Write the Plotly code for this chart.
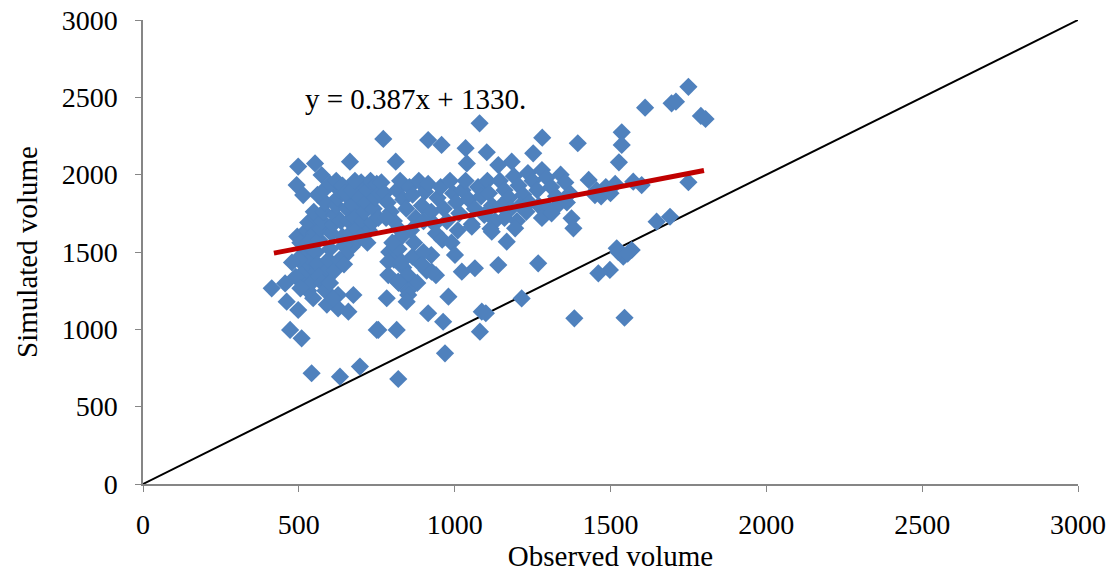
import plotly.graph_objects as go

# Observed vs simulated volumes
observed = [
    # left group
    413, 456, 461, 498, 546, 472, 509, 541, 632, 696, 626, 675, 626, 659, 670,
    498, 552, 493, 514, 573, 664, 750,
    495, 505, 510, 515, 520, 525, 530, 535, 540, 545, 550, 555, 500, 510, 520, 530,
    540, 548, 555, 560, 478, 490, 505, 528,
    565, 570, 575, 580, 585, 590, 595, 600, 605, 610, 615, 620, 625, 630, 635, 640,
    645, 650, 655, 660, 565, 575, 585, 600, 615, 630, 645, 560, 580, 600, 620, 640,
    650, 660, 665, 590, 610,
    670, 675, 680, 685, 690, 695, 700, 705, 710, 715, 720, 725, 730, 735, 740, 745,
    750, 755, 760, 680, 700, 720,
    # middle group
    765, 775, 785, 795, 805, 815, 825, 835, 845, 855, 865, 875, 885, 895, 905, 915,
    925, 935, 945, 955, 965, 975, 985, 995, 1005, 1015, 1025, 1035, 1045, 1055, 1065,
    1075, 1085, 1095, 1105, 1110, 780, 820, 860, 900, 940, 960, 990, 1010,
    790, 805, 820, 835, 850, 865, 880, 895, 910, 925, 940, 900, 870, 830, 800, 850, 820,
    787, 830, 894, 926, 1001, 1023, 1065, 787, 819, 851, 782, 846, 980, 915, 963,
    1087, 1081, 755, 814, 969, 819, 1055,
    771, 915, 958, 1035, 1103, 811, 1039, 1080,
    # right group
    1120, 1130, 1115, 1145, 1160, 1175, 1190, 1205, 1220, 1235, 1250, 1265, 1280,
    1295, 1310, 1325, 1340, 1355, 1370, 1150, 1180, 1210, 1240, 1270, 1300, 1330,
    1360, 1160, 1200, 1230, 1280,
    1281, 1395, 1252, 1183, 1140, 1430, 1450, 1311, 1375, 1381, 1119, 1167, 1194,
    1140, 1268, 1215, 1100, 1384,
    1455, 1470, 1485, 1500, 1515, 1573, 1600, 1750, 1648, 1691,
    1520, 1568, 1541, 1498, 1461, 1525, 1555, 1545,
    1750, 1696, 1710, 1611, 1790, 1805, 1536, 1536, 1527,
]
simulated = [
    1265, 1297, 1179, 1125, 1201, 996, 942, 716, 694, 759, 1222, 1222, 1136, 1114, 1534,
    2052, 2073, 1933, 1868, 1998, 2084, 996,
    1600, 1560, 1480, 1420, 1380, 1640, 1690, 1530, 1450, 1350, 1620, 1720, 1450, 1350, 1280, 1250,
    1300, 1760, 1500, 1420, 1432, 1340, 1265, 1560,
    1580, 1650, 1700, 1760, 1820, 1380, 1450, 1520, 1620, 1680, 1740, 1800, 1850, 1900, 1700, 1600,
    1540, 1480, 1780, 1850, 1340, 1300, 1250, 1300, 1380, 1450, 1420, 1870, 1900, 1940, 1960, 1930,
    1880, 1700, 1620, 1160, 1200,
    1900, 1800, 1720, 1650, 1580, 1850, 1950, 1700, 1760, 1820, 1900, 1640, 1960, 1690, 1780, 1850,
    1940, 1720, 1880, 1960, 1600, 1560,
    1950, 1880, 1820, 1760, 1700, 1900, 1960, 1840, 1780, 1920, 1870, 1720, 1960, 1800, 1890, 1940,
    1760, 1680, 1850, 1920, 1780, 1700, 1960, 1880, 1820, 1750, 1900, 1960, 1840, 1680, 1780,
    1920, 1860, 1740, 1960, 1880, 1720, 1650, 1640, 1700, 1620, 1580, 1560, 1640,
    1500, 1450, 1520, 1400, 1350, 1470, 1300, 1420, 1380, 1480, 1350, 1500, 1560, 1600, 1560, 1250, 1300,
    1437, 1437, 1416, 1373, 1481, 1373, 1395, 1351, 1308, 1222, 1201, 1179, 1211, 1104, 1049,
    1114, 985, 996, 996, 845, 679, 1664,
    2231, 2224, 2192, 2171, 2145, 2084, 2073, 2332,
    1800, 1700, 1650, 1960, 1900, 1850, 1990, 1930, 1870, 2010, 1960, 1900, 2030,
    1980, 1920, 1860, 2000, 1950, 1880, 1800, 1780, 1800, 1820, 1800, 1780, 1800,
    1820, 1720, 1700, 1760, 1720,
    2239, 2203, 2138, 2084, 2062, 1966, 1868, 1750, 1718, 1653, 1631, 1567, 1653,
    1416, 1427, 1200, 1104, 1071,
    1900, 1860, 1920, 1880, 1940, 1955, 1933, 1951, 1696, 1728,
    1524, 1513, 1470, 1384, 1362, 1500, 1490, 1075,
    2568, 2461, 2472, 2433, 2380, 2360, 2274, 2192, 2080,
]

# Linear trendline coefficients shown on the chart
slope = 0.387
intercept = 1330
trend_x = [420, 1800]
trend_y = [slope * v + intercept for v in trend_x]

# 1:1 reference line
ref_x = [0, 3000]
ref_y = [0, 3000]

axis_ticks = [0, 500, 1000, 1500, 2000, 2500, 3000]

font_family = "Liberation Serif, Times New Roman, serif"

fig = go.Figure()
fig.add_trace(go.Scatter(
    x=ref_x, y=ref_y, mode="lines",
    line=dict(color="black", width=2), hoverinfo="skip",
))
fig.add_trace(go.Scatter(
    x=observed, y=simulated, mode="markers",
    marker=dict(symbol="diamond", size=14, color="#4F81BD", line=dict(width=0)),
))
fig.add_trace(go.Scatter(
    x=trend_x, y=trend_y, mode="lines",
    line=dict(color="#C00000", width=5),
))

fig.add_annotation(
    x=513, y=2490, xref="x", yref="y", xanchor="left", yanchor="middle",
    text="y = 0.387x + 1330.", showarrow=False,
    font=dict(family=font_family, size=29, color="black"),
)

axis_common = dict(
    range=[0, 3000], tickvals=axis_ticks, showgrid=False, zeroline=False,
    showline=True, linecolor="#868686", linewidth=1.5,
    ticks="outside", ticklen=6, tickcolor="#868686", automargin=False,
    tickfont=dict(family=font_family, size=28, color="black"),
)

fig.update_layout(
    width=1120, height=575,
    margin=dict(l=143, r=42, t=20, b=91),
    plot_bgcolor="white", paper_bgcolor="white",
    showlegend=False,
    xaxis=dict(**axis_common, ticklabelstandoff=9,
               title=dict(text="Observed volume", standoff=6,
                          font=dict(family=font_family, size=29, color="black"))),
    yaxis=dict(**axis_common, ticklabelstandoff=12,
               title=dict(text="Simulated volume", standoff=16,
                          font=dict(family=font_family, size=29, color="black"))),
)

fig.write_html("out.html")
